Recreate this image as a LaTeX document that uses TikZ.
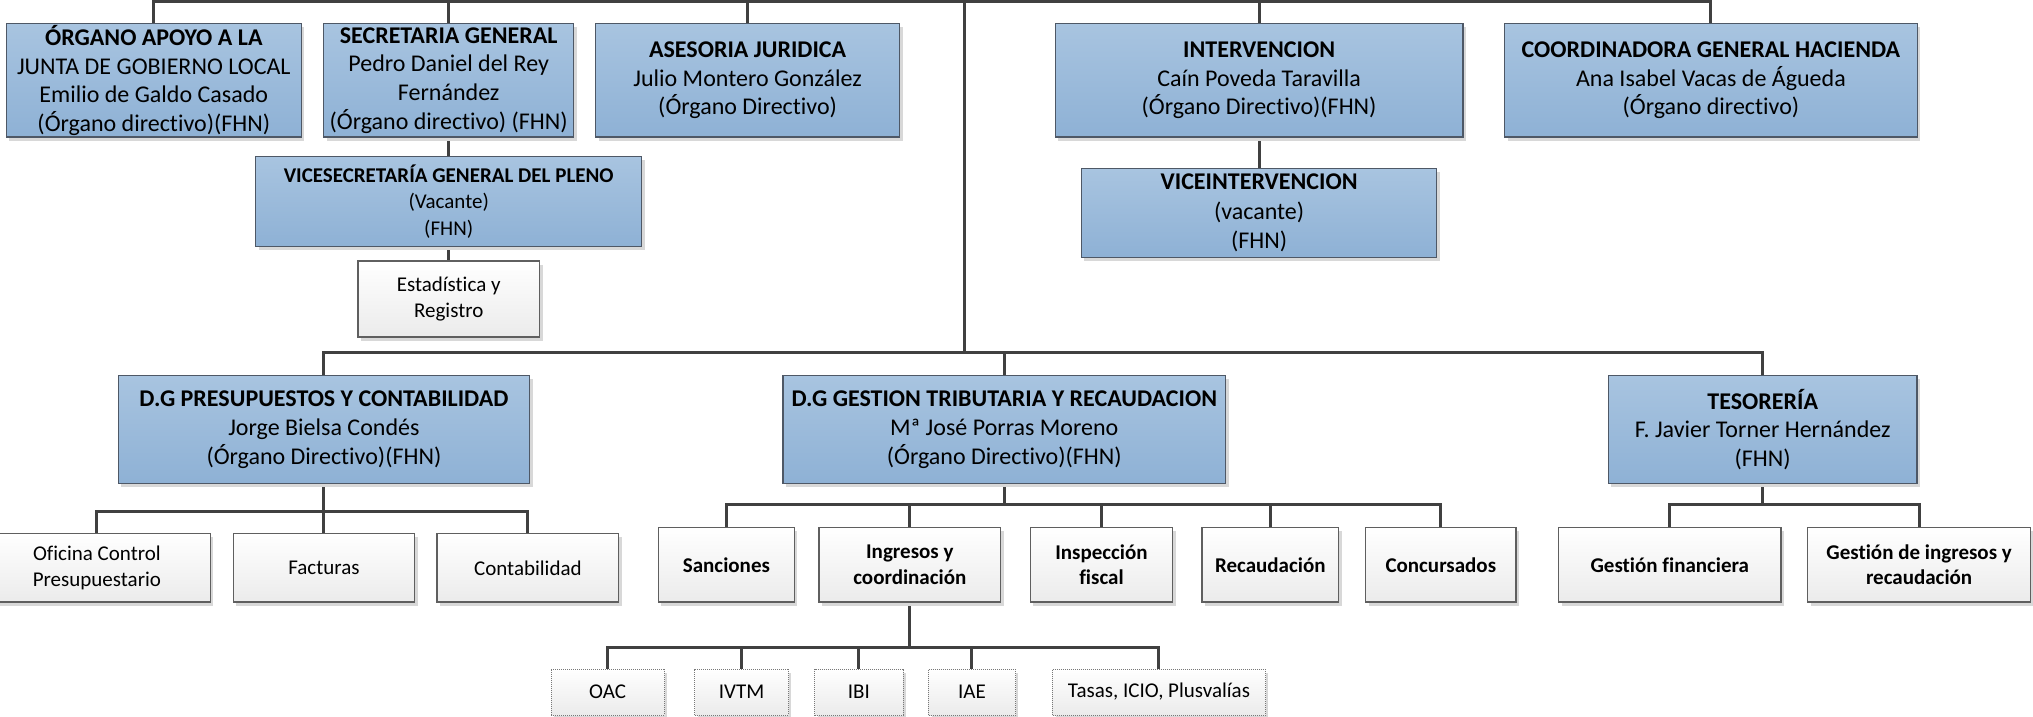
\documentclass[tikz,border=0pt]{standalone}
\usepackage{fontspec}
\setmainfont{Carlito}[Ligatures={NoCommon}]
\usetikzlibrary{shadows}
\definecolor{bTop}{RGB}{168,196,224}
\definecolor{bBot}{RGB}{142,177,213}
\definecolor{bBorder}{RGB}{78,88,102}
\definecolor{wBot}{RGB}{235,235,235}
\definecolor{wBorder}{RGB}{95,95,95}
\definecolor{dBorder}{RGB}{120,120,120}
\definecolor{lineC}{RGB}{64,64,64}
\definecolor{shadowc}{RGB}{216,216,216}
\pgfdeclarelayer{bg}
\pgfsetlayers{bg,main}
\begin{document}
\begin{tikzpicture}[x=1pt,y=-1pt,
  box/.style={draw, line width=1.3pt, inner sep=0pt, align=center,
    drop shadow={shadow xshift=3pt, shadow yshift=-3.5pt, fill=shadowc, opacity=1}},
  bluebox/.style={box, draw=bBorder, top color=bTop, bottom color=bBot},
  whitebox/.style={box, draw=wBorder, top color=white, bottom color=wBot},
  dotbox/.style={whitebox, line width=1pt, dash pattern=on 1pt off 1pt, draw=dBorder},
  big/.style={font=\fontsize{24}{28.7}\selectfont},
  small/.style={font=\fontsize{21}{25.5}\selectfont},
  topbox/.style={bluebox, big, minimum height=113.3pt},
  midbox/.style={bluebox, big, minimum height=108.4pt},
  childa/.style={whitebox, small, minimum height=68.3pt},
  childb/.style={whitebox, small, minimum height=74.3pt, font=\fontsize{21}{25.5}\selectfont\bfseries},
  leaf/.style={dotbox, small, minimum height=46pt},
  conn/.style={draw=lineC, line width=3pt},
]
\useasboundingbox (0,0) rectangle (2033,716);
\clip (0,0) rectangle (2033,716);

% top row
\node[topbox, minimum width=295pt] (org) at (153.8,80.35)
  {\textbf{ÓRGANO APOYO A LA}\\JUNTA DE GOBIERNO LOCAL\\Emilio de Galdo Casado\\(Órgano directivo)(FHN)};
\node[topbox, minimum width=250pt] (sec) at (448.7,80.35)
  {\textbf{SECRETARIA GENERAL}\\Pedro Daniel del Rey\\Fernández\\(Órgano directivo) (FHN)};
\node[topbox, minimum width=304.2pt] (ase) at (747.6,80.35)
  {\textbf{ASESORIA JURIDICA}\\Julio Montero González\\(Órgano Directivo)};
\node[topbox, minimum width=407.6pt] (int) at (1259.1,80.35)
  {\textbf{INTERVENCION}\\Caín Poveda Taravilla\\(Órgano Directivo)(FHN)};
\node[topbox, minimum width=412.6pt] (coo) at (1710.9,80.35)
  {\textbf{COORDINADORA GENERAL HACIENDA}\\Ana Isabel Vacas de Águeda\\(Órgano directivo)};

% second level
\node[bluebox, font=\fontsize{21}{26.6}\selectfont, minimum width=386.1pt, minimum height=90.4pt] (vsec) at (448.7,201.5)
  {\textbf{VICESECRETARÍA GENERAL DEL PLENO}\\(Vacante)\\(FHN)};
\node[whitebox, font=\fontsize{21}{26.6}\selectfont, minimum width=181.7pt, minimum height=76pt] (est) at (448.7,299)
  {Estadística y\\Registro};
\node[bluebox, font=\fontsize{24}{29.7}\selectfont, minimum width=355.3pt, minimum height=88.6pt] (vint) at (1259.1,213)
  {\textbf{VICEINTERVENCION}\\(vacante)\\(FHN)};

% middle row
\node[midbox, minimum width=411.2pt] (dgp) at (323.9,429.5)
  {\textbf{D.G PRESUPUESTOS Y CONTABILIDAD}\\Jorge Bielsa Condés\\(Órgano Directivo)(FHN)};
\node[midbox, minimum width=442.5pt] (dgg) at (1004.25,429.5)
  {\textbf{D.G GESTION TRIBUTARIA Y RECAUDACION}\\Mª José Porras Moreno\\(Órgano Directivo)(FHN)};
\node[midbox, minimum width=308.6pt] (tes) at (1762.7,429.5)
  {\textbf{TESORERÍA}\\F. Javier Torner Hernández\\(FHN)};

% children of D.G Presupuestos
\node[childa, minimum width=226.8pt] (ofi) at (96.9,567.85) {Oficina Control\\Presupuestario};
\node[childa, minimum width=181.3pt] (fac) at (323.9,567.85) {Facturas};
\node[childa, minimum width=181.8pt] (con) at (527.9,567.85) {Contabilidad};

% children of D.G Gestion
\node[childb, minimum width=136pt] (san) at (726.4,564.85) {Sanciones};
\node[childb, minimum width=181.4pt] (ing) at (909.8,564.85) {Ingresos y\\coordinación};
\node[childb, minimum width=142.3pt] (ins) at (1101.5,564.85) {Inspección\\fiscal};
\node[childb, minimum width=136.6pt] (rec) at (1270.3,564.85) {Recaudación};
\node[childb, minimum width=150.4pt] (cnc) at (1440.8,564.85) {Concursados};

% children of Tesoreria
\node[childb, minimum width=222.6pt] (gfi) at (1669.8,564.85) {Gestión financiera};
\node[childb, minimum width=223pt] (gin) at (1919.1,564.85) {Gestión de ingresos y\\recaudación};

% leaves of Ingresos
\node[leaf, minimum width=113.3pt] (oac) at (607.65,692) {OAC};
\node[leaf, minimum width=93.4pt] (ivt) at (741.6,692) {IVTM};
\node[leaf, minimum width=88.2pt] (ibi) at (858.9,692) {IBI};
\node[leaf, minimum width=86.7pt] (iae) at (971.95,692) {IAE};
\node[leaf, minimum width=212.7pt] (tas) at (1158.95,692) {Tasas, ICIO, Plusvalías};

\coordinate (topbus) at (0,1.6);
\coordinate (trunk) at (964,1.6);
\coordinate (midbus) at (0,352.3);
\coordinate (pbus) at (0,511);
\coordinate (gbus) at (0,504);
\coordinate (ibus) at (0,647.3);

\begin{pgfonlayer}{bg}
\path[conn] (org.north) |- (coo.north |- topbus) -- (coo.north);
\path[conn] (sec.north) -- (sec.north |- topbus);
\path[conn] (ase.north) -- (ase.north |- topbus);
\path[conn] (int.north) -- (int.north |- topbus);
\path[conn] (trunk) -- (trunk |- midbus);
\path[conn] (sec.south) -- (vsec.north);
\path[conn] (vsec.south) -- (est.north);
\path[conn] (int.south) -- (vint.north);
\path[conn] (dgp.north) |- (tes.north |- midbus) -- (tes.north);
\path[conn] (dgg.north) -- (dgg.north |- midbus);
\path[conn] (dgp.south) -- (dgp.south |- pbus);
\path[conn] (ofi.north) |- (con.north |- pbus) -- (con.north);
\path[conn] (fac.north) -- (fac.north |- pbus);
\path[conn] (dgg.south) -- (dgg.south |- gbus);
\path[conn] (san.north) |- (cnc.north |- gbus) -- (cnc.north);
\path[conn] (ing.north) -- (ing.north |- gbus);
\path[conn] (ins.north) -- (ins.north |- gbus);
\path[conn] (rec.north) -- (rec.north |- gbus);
\path[conn] (tes.south) -- (tes.south |- gbus);
\path[conn] (gfi.north) |- (gin.north |- gbus) -- (gin.north);
\path[conn] (ing.south) -- (ing.south |- ibus);
\path[conn] (oac.north) |- (tas.north |- ibus) -- (tas.north);
\path[conn] (ivt.north) -- (ivt.north |- ibus);
\path[conn] (ibi.north) -- (ibi.north |- ibus);
\path[conn] (iae.north) -- (iae.north |- ibus);
\end{pgfonlayer}
\end{tikzpicture}
\end{document}
